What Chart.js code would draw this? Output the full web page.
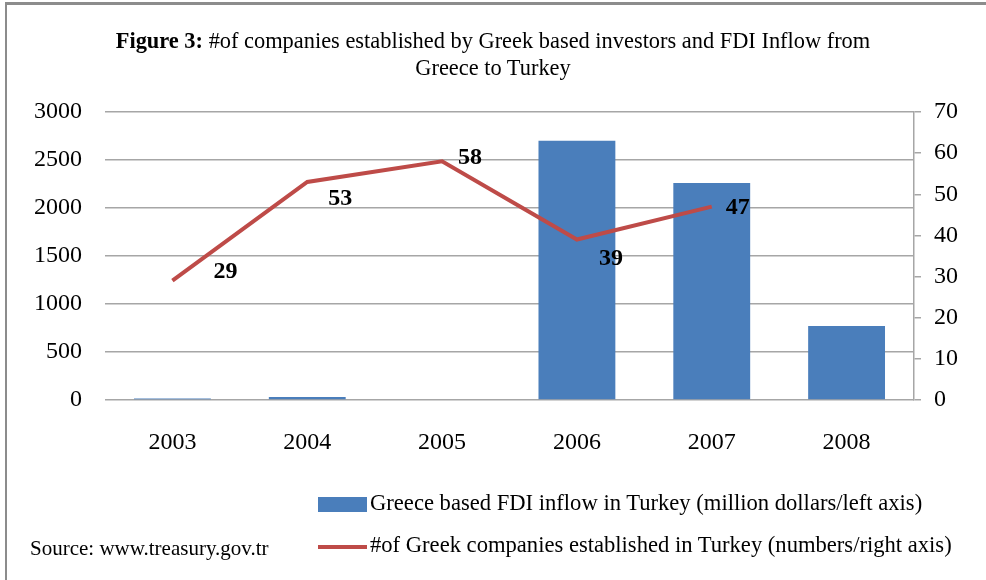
<!DOCTYPE html>
<html>
<head>
<meta charset="utf-8">
<script src="https://cdn.jsdelivr.net/npm/chart.js@4"></script>
<style>
  body { margin: 0; background: #fff; font-family: "Liberation Serif", "DejaVu Serif", serif; }
  #wrap { position: relative; width: 986px; height: 580px; overflow: hidden; }
  #frame { position: absolute; left: 5px; top: 2px; width: 1000px; height: 620px; border-left: 2px solid #8c8c8c; border-top: 3px solid #8c8c8c; box-sizing: border-box; }
  #chart { position: absolute; left: 0; top: 0; }
  #title { position: absolute; left: 0; width: 986px; top: 27px; text-align: center; font-size: 22.4px; line-height: 27px; color: #000; }
  .leg { position: absolute; left: 318px; font-size: 22.6px; line-height: 26px; color: #000; white-space: nowrap; }
  .leg span.sw { display: inline-block; vertical-align: middle; margin-right: 3px; }
  #source { position: absolute; left: 30px; top: 536px; font-size: 21px; line-height: 24px; white-space: nowrap; }
</style>
</head>
<body>
<div id="wrap">
  <div id="frame"></div>
  <canvas id="chart" width="986" height="580"></canvas>
  <div id="title"><b>Figure 3:</b> #of companies established by Greek based investors and FDI Inflow from<br>Greece to Turkey</div>
  <div class="leg" style="top:490px"><span class="sw" style="width:49px;height:15px;background:#4a7ebb"></span>Greece based FDI inflow in Turkey (million dollars/left axis)</div>
  <div class="leg" style="top:532px"><span class="sw" style="width:49px;height:4px;background:#be4b48"></span>#of Greek companies established in Turkey (numbers/right axis)</div>
  <div id="source">Source: www.treasury.gov.tr</div>
</div>
<script>
// Years on the x axis
const years = ['2003', '2004', '2005', '2006', '2007', '2008'];
// FDI inflow, million dollars (left axis)
const fdiInflow = [15, 30, 0, 2700, 2260, 770];
// Number of Greek companies established (right axis)
const companies = [29, 53, 58, 39, 47, null];
// Axis ticks
const leftTicks = [0, 500, 1000, 1500, 2000, 2500, 3000];
const rightTicks = [0, 10, 20, 30, 40, 50, 60, 70];

// label offsets from each line point (Excel placed them by hand)
const labelShift = [[53, -9], [33, 17], [28, -4], [34, 19], [26, 1], [0, 0]];

const lineLabels = {
    id: 'lineLabels',
    afterDatasetsDraw(chart) {
        const ctx = chart.ctx;
        const meta = chart.getDatasetMeta(1);
        ctx.save();
        ctx.font = 'bold 24px "Liberation Serif", serif';
        ctx.fillStyle = '#000';
        ctx.textAlign = 'center';
        ctx.textBaseline = 'middle';
        meta.data.forEach((pt, i) => {
            const v = companies[i];
            if (v === null || v === undefined) return;
            ctx.fillText(String(v), pt.x + labelShift[i][0], pt.y + labelShift[i][1]);
        });
        ctx.restore();
    }
};

const tickFont = { family: '"Liberation Serif", serif', size: 24 };

new Chart(document.getElementById('chart').getContext('2d'), {
    data: {
        labels: years,
        datasets: [{
            type: 'bar',
            label: 'Greece based FDI inflow in Turkey (million dollars/left axis)',
            data: fdiInflow,
            backgroundColor: '#4a7ebb',
            yAxisID: 'yLeft',
            barPercentage: 0.57,
            categoryPercentage: 1,
            order: 2
        }, {
            type: 'line',
            label: '#of Greek companies established in Turkey (numbers/right axis)',
            data: companies,
            borderColor: '#be4b48',
            borderWidth: 4,
            pointRadius: 0,
            tension: 0,
            yAxisID: 'yRight',
            order: 1
        }]
    },
    options: {
        responsive: false,
        animation: false,
        layout: { padding: { top: 112, left: 0, right: 0, bottom: 0 } },
        plugins: {
            legend: { display: false },
            tooltip: { enabled: false }
        },
        scales: {
            x: {
                grid: { display: false },
                border: { display: false },
                ticks: { color: '#000', font: tickFont, padding: 20 },
                afterFit(s) { s.height = 180; }
            },
            yLeft: {
                position: 'left',
                min: 0, max: 3000,
                afterBuildTicks(s) { s.ticks = leftTicks.map(v => ({ value: v })); },
                grid: { color: '#a6a6a6', lineWidth: 1.5, drawTicks: false },
                border: { display: false },
                ticks: { color: '#000', font: tickFont, padding: 23, callback: v => String(v) },
                afterFit(s) { s.width = 105; }
            },
            yRight: {
                position: 'right',
                min: 0, max: 70,
                afterBuildTicks(s) { s.ticks = rightTicks.map(v => ({ value: v })); },
                grid: { drawOnChartArea: false, color: '#a6a6a6', lineWidth: 1.5, tickLength: 7 },
                border: { display: true, color: '#a6a6a6', width: 1.5 },
                ticks: { color: '#000', font: tickFont, padding: 13, callback: v => String(v) },
                afterFit(s) { s.width = 72; }
            }
        }
    },
    plugins: [lineLabels]
});
</script>
</body>
</html>
